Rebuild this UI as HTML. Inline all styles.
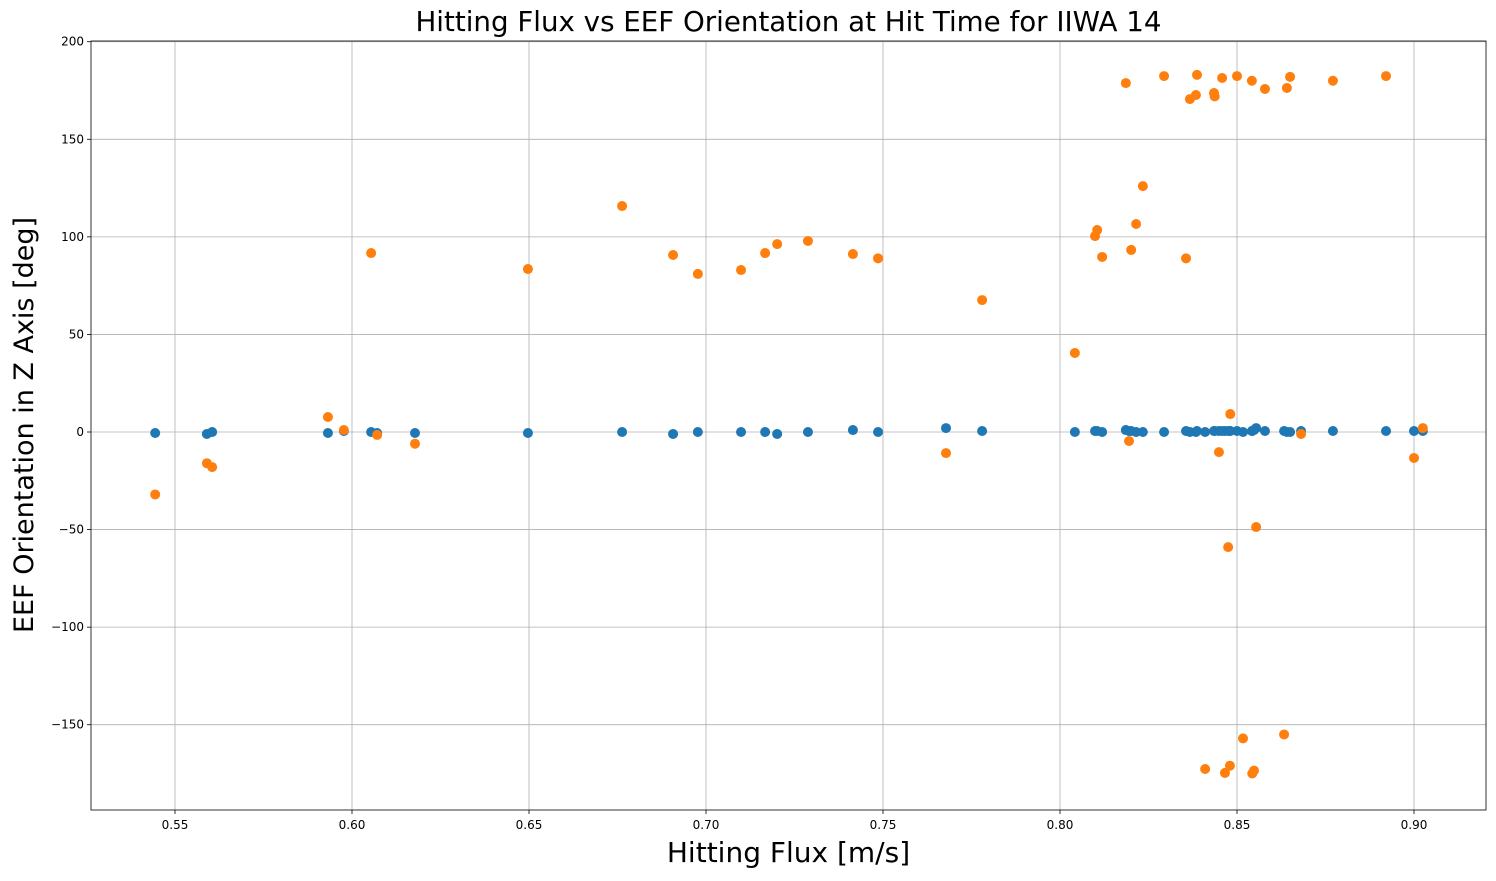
<!DOCTYPE html>
<html><head><meta charset="utf-8"><style>
body{margin:0;background:#fff;font-family:"DejaVu Sans","Liberation Sans",sans-serif}
</style></head><body>
<svg id="chart" width="1496" height="877" xmlns="http://www.w3.org/2000/svg" font-family="DejaVu Sans, Liberation Sans, sans-serif"></svg>
<script>
const xValues=[0.5444,0.5590,0.5605,0.5932,0.5977,0.6054,0.6071,0.6178,0.6497,0.6763,0.6907,0.6977,0.7099,0.7167,0.7201,0.7288,0.7415,0.7486,0.7678,0.7780,0.8042,0.8099,0.8105,0.8119,0.8186,0.8195,0.8201,0.8215,0.8234,0.8294,0.8356,0.8367,0.8384,0.8387,0.8410,0.8435,0.8437,0.8449,0.8458,0.8466,0.8475,0.8480,0.8481,0.8500,0.8517,0.8542,0.8543,0.8548,0.8554,0.8579,0.8633,0.8641,0.8650,0.8681,0.8771,0.8921,0.9000,0.9025];
const blueValues=[-0.5,-1,0,-0.5,0.5,0,-0.5,-0.5,-0.5,0,-1,0,0,0,-1,0,1,0,2,0.5,0,0.5,0.5,0,1,0.5,0.5,0,0,0,0.5,0,0,0.5,0,0.5,0.5,0.5,0.5,0.5,0.5,0.5,0.5,0.5,0,0.5,0.5,1,2,0.5,0.5,0,0,0.5,0.5,0.5,0.5,0.5];
const orangeValues=[-32,-16,-18,7.7,1,91.7,-1.5,-6,83.5,115.8,90.7,81,83,91.7,96.3,97.9,91.2,89,-10.8,67.6,40.5,100.4,103.5,89.7,178.8,-4.6,93.3,106.6,126,182.4,89,170.6,172.7,183,-172.7,173.7,172,-10.3,181.4,-174.7,-59,-171,9.2,182.4,-157,180,-175,-173.5,-48.7,175.8,-155,176.3,182,-1,180,182.4,-13.3,2];
const xTicks=[0.55,0.60,0.65,0.70,0.75,0.80,0.85,0.90];
const yTicks=[-150,-100,-50,0,50,100,150,200];
const L=91,R=1486,T=41,B=810;
const sx=v=>175+(v-0.55)*3540;
const sy=v=>432-v*1.9514;
const svg=document.getElementById('chart');
const NS='http://www.w3.org/2000/svg';
function mk(tag,attrs,parent){const e=document.createElementNS(NS,tag);for(const k in attrs)e.setAttribute(k,attrs[k]);(parent||svg).appendChild(e);return e;}
const grid=mk('g',{});


const ticks=mk('g',{});


xTicks.forEach(t=>{const x=sx(t);
 mk('line',{x1:x,x2:x,y1:T,y2:B,stroke:'#b0b0b0','stroke-width':0.8},grid);
 mk('line',{x1:x,x2:x,y1:B,y2:B+4,stroke:'#000','stroke-width':0.8},ticks);
 const tx=mk('text',{x:x,y:B+19,'text-anchor':'middle','font-size':12},ticks);tx.textContent=t.toFixed(2);
 
 
});
yTicks.forEach(t=>{const y=sy(t);
 mk('line',{x1:L,x2:R,y1:y,y2:y,stroke:'#b0b0b0','stroke-width':0.8},grid);
 mk('line',{x1:L-4,x2:L,y1:y,y2:y,stroke:'#000','stroke-width':0.8},ticks);
 const tx=mk('text',{x:L-7,y:y+4,'text-anchor':'end','font-size':12},ticks);tx.textContent=String(t).replace('-','−');
 
 
});
const bs=mk('g',{});


xValues.forEach((x,i)=>{const c=mk('circle',{cx:sx(x),cy:sy(blueValues[i]),r:5,fill:'#1f77b4'},bs);
 
 });
const os=mk('g',{});


xValues.forEach((x,i)=>{const c=mk('circle',{cx:sx(x),cy:sy(orangeValues[i]),r:5,fill:'#ff7f0e'},os);
 
 });
const fr=mk('rect',{x:L,y:T,width:R-L,height:B-T,fill:'none',stroke:'#000','stroke-width':0.8});


const ti=mk('text',{x:(L+R)/2,y:31,'text-anchor':'middle','font-size':27.7});ti.textContent='Hitting Flux vs EEF Orientation at Hit Time for IIWA 14';


const xl=mk('text',{x:(L+R)/2,y:862,'text-anchor':'middle','font-size':28});xl.textContent='Hitting Flux [m/s]';


const yl=mk('text',{x:0,y:0,'text-anchor':'middle','font-size':27,transform:'translate(33,425) rotate(-90)'});yl.textContent='EEF Orientation in Z Axis [deg]';


</script>
</body></html>
